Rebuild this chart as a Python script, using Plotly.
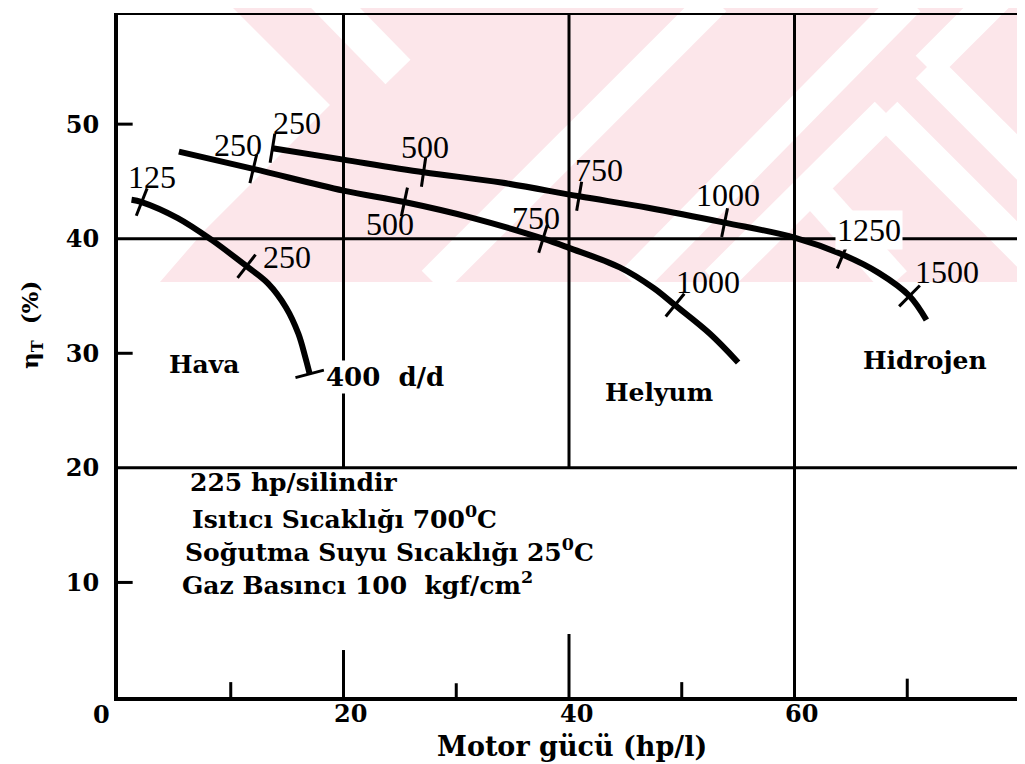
import numpy as np
import plotly.graph_objects as go

# ---------------- data ----------------
x_ticks = [20, 40, 60]
y_ticks = [10, 20, 30, 40, 50]

# Hava (air)
hava_x = [1.2, 2.1, 5.3, 8.3, 11.4, 13.3, 14.9, 16.0, 16.6, 17.0]
hava_y = [43.4, 43.2, 41.8, 39.9, 37.6, 36.1, 34.0, 31.7, 29.7, 28.2]
hava_rpm = ["125", "250", "400"]
hava_rpm_x = [2.1, 11.4, 17.0]
hava_rpm_y = [43.2, 37.6, 28.2]

# Helyum
helyum_x = [5.4, 12.0, 20.0, 25.4, 31.5, 37.7, 40.0, 44.5, 47.5, 49.4, 52.5, 55.0]
helyum_y = [47.6, 46.1, 44.2, 43.2, 41.8, 40.0, 39.2, 37.5, 35.7, 34.2, 31.7, 29.2]
helyum_rpm = ["250", "500", "750", "1000"]
helyum_rpm_x = [12.0, 25.4, 37.7, 49.4]
helyum_rpm_y = [46.1, 43.2, 40.0, 34.2]

# Hidrojen
hid_x = [13.7, 20.0, 27.1, 34.0, 40.9, 47.0, 53.8, 60.0, 64.3, 67.5, 70.2, 71.7]
hid_y = [47.9, 46.9, 45.8, 44.9, 43.7, 42.7, 41.4, 40.1, 38.6, 37.0, 35.0, 32.9]
hid_rpm = ["250", "500", "750", "1000", "1250", "1500"]
hid_rpm_x = [13.7, 27.1, 40.9, 53.8, 64.3, 70.2]
hid_rpm_y = [47.9, 45.8, 43.7, 41.4, 38.6, 35.0]

notes = ["225 hp/silindir",
         "Isıtıcı Sıcaklığı 700<sup>0</sup>C",
         "Soğutma Suyu Sıcaklığı 25<sup>0</sup>C",
         "Gaz Basıncı 100  kgf/cm<sup>2</sup>"]

# ---------------- geometry helpers (page pixel coords) ----------------
OFF = 8                      # default body margin of the html page
W, H = 1025 - OFF, 764 - OFF
L, R, T, B = 118, 1020, 13, 697
XR = [0, 80]
YR = [0, 59.7]
sx = (R - L) / (XR[1] - XR[0])
sy = (B - T) / (YR[1] - YR[0])


def P(px, py):
    return (px - L) / (R - L), (B - py) / (B - T)


def poly_path(pts):
    s = ""
    for i, (px, py) in enumerate(pts):
        a, b = P(px, py)
        s += ("M" if i == 0 else "L") + f"{a:.5f},{b:.5f} "
    return s + "Z"


def stripe(x0, y0, x1, y1, w=32):
    dx, dy = x1 - x0, y1 - y0
    n = np.hypot(dx, dy)
    ox, oy = -dy / n * w / 2, dx / n * w / 2
    return poly_path([(x0 + ox, y0 + oy), (x1 + ox, y1 + oy),
                      (x1 - ox, y1 - oy), (x0 - ox, y0 - oy)])


PINK = "#fce6ea"
shapes = []
# watermark (light pink background pattern of the scan)
shapes.append(dict(type="path", xref="paper", yref="paper", layer="below",
                   path=poly_path([(118, 0), (1021, 0), (1021, 282), (118, 282)]),
                   fillcolor=PINK, line=dict(width=0)))
white_polys = [
    poly_path([(118, 0), (225, 0), (330, 105), (205, 230), (160, 282), (118, 282)]),
    stripe(318, -10, 398, 72, 35),
    stripe(433, 282, 715, 0),
    stripe(632, 282, 909, 0),
    stripe(716, 282, 886, 113),
    stripe(886, 113, 1055, 282),
    stripe(810, 187, 895, 282),
    stripe(927, 67, 1020, -26),
    stripe(927, 67, 1045, 185),
]
for pth in white_polys:
    shapes.append(dict(type="path", xref="paper", yref="paper", layer="below",
                       path=pth, fillcolor="white", line=dict(width=0)))

GL = dict(color="black", width=3)
# partial grid lines
for (x0, y0, x1, y1) in [(0, 40, 80, 40), (0, 20, 80, 20), (20, 20, 20, YR[1]),
                         (40, 20, 40, YR[1]), (60, 0, 60, YR[1])]:
    shapes.append(dict(type="line", xref="x", yref="y", x0=x0, y0=y0, x1=x1, y1=y1,
                       line=GL, layer="between"))
# frame: top and upper right
shapes.append(dict(type="line", xref="x", yref="y", x0=0, x1=80, y0=YR[1], y1=YR[1],
                   line=dict(color="black", width=4), layer="between"))
shapes.append(dict(type="line", xref="x", yref="y", x0=80, x1=80, y0=20, y1=YR[1],
                   line=dict(color="black", width=4), layer="between"))
# inner ticks
for xv, ln in [(10, 1.3), (20, 4.1), (30, 1.2), (40, 5.5), (50, 1.3), (70, 1.6)]:
    shapes.append(dict(type="line", xref="x", yref="y", x0=xv, x1=xv, y0=0, y1=ln,
                       line=GL, layer="between"))
for yv in [10, 30, 50]:
    shapes.append(dict(type="line", xref="x", yref="y", x0=0, x1=1.3, y0=yv, y1=yv,
                       line=GL, layer="between"))

fig = go.Figure()


def add_gas(cx, cy, mx, my):
    fig.add_trace(go.Scatter(x=cx, y=cy, mode="lines",
                             line=dict(color="black", width=6, shape="spline", smoothing=1.0),
                             hoverinfo="skip", showlegend=False))
    cxa, cya = np.array(cx), np.array(cy)
    angs = []
    for a, b in zip(mx, my):
        i = int(np.argmin((cxa - a) ** 2 + (cya - b) ** 2))
        i0, i1 = max(i - 1, 0), min(i + 1, len(cx) - 1)
        dxp = (cxa[i1] - cxa[i0]) * sx
        dyp = -(cya[i1] - cya[i0]) * sy
        angs.append(float(np.degrees(np.arctan2(dyp, dxp))))
    fig.add_trace(go.Scatter(x=mx, y=my, mode="markers",
                             marker=dict(symbol="line-ns", size=21, angle=angs,
                                         line=dict(color="black", width=3)),
                             hoverinfo="skip", showlegend=False))


add_gas(hava_x, hava_y, hava_rpm_x, hava_rpm_y)
add_gas(helyum_x, helyum_y, helyum_rpm_x, helyum_rpm_y)
add_gas(hid_x, hid_y, hid_rpm_x, hid_rpm_y)

SER = "Liberation Serif"
BOLD = "DejaVu Serif"
ann = []


def lab(text, x, y, size=32, fam=SER, weight="normal", bg=None, xanchor="center"):
    d = dict(text=text, x=x, y=y, xref="x", yref="y", showarrow=False,
             xanchor=xanchor, yanchor="middle",
             font=dict(family=fam, size=size, color="black", weight=weight))
    if bg:
        d["bgcolor"] = bg
    ann.append(d)


def plab(text, px, py, size, angle=0):
    a, b = P(px, py)
    ann.append(dict(text=text, x=a, y=b, xref="paper", yref="paper", showarrow=False,
                    xanchor="center", yanchor="middle", textangle=angle,
                    font=dict(family=BOLD, size=size, color="black", weight="bold")))


# speed labels
hava_lab_pos = [(3.0, 45.4), (15.0, 38.4)]
for t, (x, y) in zip(hava_rpm[:2], hava_lab_pos):
    lab(t, x, y)
lab(hava_rpm[2] + "  d/d", 18.3, 27.9, size=26, fam=BOLD, weight="bold", bg="white",
    xanchor="left")
helyum_lab_pos = [(10.6, 48.2), (24.1, 41.3), (37.1, 41.8), (52.3, 36.2)]
for t, (x, y) in zip(helyum_rpm, helyum_lab_pos):
    lab(t, x, y)
hid_lab_pos = [(15.9, 50.1), (27.2, 48.0), (42.7, 46.0), (54.1, 43.8), (66.6, 40.8), (73.5, 37.1)]
for t, (x, y) in zip(hid_rpm, hid_lab_pos):
    lab(t, x, y, bg="white" if t == "1250" else None)

# gas names
lab("Hava", 7.7, 29.0, size=25, fam=BOLD, weight="bold")
lab("Helyum", 48.0, 26.6, size=25, fam=BOLD, weight="bold")
lab("Hidrojen", 71.6, 29.4, size=25, fam=BOLD, weight="bold")

# notes block
note_pos = [(6.2, 18.7), (6.4, 15.7), (5.8, 12.8), (5.5, 9.9)]
for t, (x, y) in zip(notes, note_pos):
    lab(t, x, y, size=25, fam=BOLD, weight="bold", xanchor="left")

# x tick labels (placed under the axis like the scan)
for v in x_ticks:
    ann.append(dict(text=str(v), x=v, y=P(0, 713)[1], xref="x", yref="paper",
                    showarrow=False, xanchor="center", yanchor="middle", xshift=7,
                    font=dict(family=BOLD, size=24, color="black", weight="bold")))
plab("0", 101, 714, 24)
plab("Motor gücü (hp/l)", 572, 746, 27)
plab("η<sub>T</sub>  (%)", 31, 325, 23, angle=-90)

fig.update_layout(
    width=W, height=H,
    margin=dict(l=L - OFF, r=1025 - R, t=T - OFF, b=764 - B),
    paper_bgcolor="white", plot_bgcolor="white",
    shapes=shapes, annotations=ann, showlegend=False,
    xaxis=dict(range=XR, showgrid=False, zeroline=False, showline=True,
               linecolor="black", linewidth=4, tickmode="array", tickvals=x_ticks,
               showticklabels=False, ticks=""),
    yaxis=dict(range=YR, showgrid=False, zeroline=False, showline=True,
               linecolor="black", linewidth=4, tickmode="array", tickvals=y_ticks,
               ticktext=[str(v) for v in y_ticks], ticks="", ticklabelstandoff=10,
               tickfont=dict(family=BOLD, size=24, color="black", weight="bold")),
)

fig.write_html("out.html")
